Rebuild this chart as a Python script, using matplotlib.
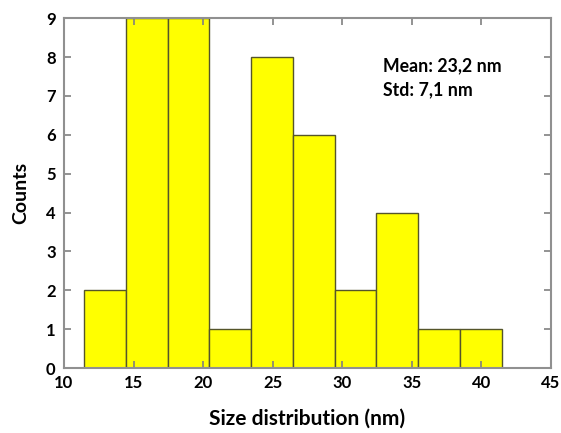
import matplotlib
matplotlib.use("Agg")
import matplotlib.pyplot as plt

# histogram data
bin_start = 11.45
bin_width = 3.0
counts = [2, 9, 9, 1, 8, 6, 2, 4, 1, 1]
lefts = [bin_start + i * bin_width for i in range(len(counts))]

xticks = [10, 15, 20, 25, 30, 35, 40, 45]
yticks = list(range(0, 10))

plt.rcParams["font.family"] = ["Lato", "DejaVu Sans"]
plt.rcParams["font.weight"] = "bold"

fig = plt.figure(figsize=(5.61, 4.33), dpi=100)
ax = fig.add_axes([0.114, 0.150, 0.868, 0.808])

ax.bar(lefts, counts, width=bin_width, align="edge",
       color="#ffff00", edgecolor="#55552a", linewidth=1.0)

ax.set_xlim(10, 45)
ax.set_ylim(0, 9)
ax.set_xticks(xticks)
ax.set_yticks(yticks)

for s in ax.spines.values():
    s.set_color("#909090")
    s.set_linewidth(1.5)

ax.tick_params(direction="in", top=True, right=True, length=5,
               width=1.2, color="#808080", labelsize=12)
ax.tick_params(axis="x", pad=5)
ax.tick_params(axis="y", pad=6)
for lab in ax.get_xticklabels() + ax.get_yticklabels():
    lab.set_fontweight("bold")

ax.set_xlabel("Size distribution (nm)", fontsize=15, fontweight="bold", labelpad=13)
ax.set_ylabel("Counts", fontsize=14, fontweight="bold", labelpad=12)

ax.text(0.655, 0.83, "Mean: 23,2 nm\nStd: 7,1 nm", transform=ax.transAxes,
        fontsize=12.8, fontweight="bold", va="center", ha="left", linespacing=1.5)

fig.savefig("out.png", dpi=100)
